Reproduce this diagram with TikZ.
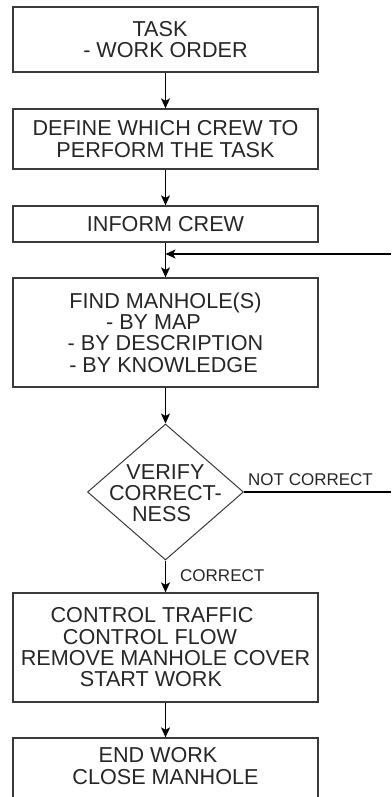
\documentclass[tikz,border=0pt]{standalone}
\usepackage{fontspec}
\setmainfont{Liberation Sans}
\usetikzlibrary{shapes.geometric,arrows.meta}
\definecolor{edge}{HTML}{3A3A3A}
\definecolor{ink}{HTML}{262626}
\begin{document}
\begin{tikzpicture}[x=1pt,y=-1pt,
  every node/.style={font=\fontsize{21.6}{21.3}\selectfont, text=ink},
  stepbox/.style={draw=edge, line width=1.3pt, minimum width=305pt, inner sep=0pt, align=center},
  decision/.style={diamond, draw=edge, line width=1pt, minimum width=156pt, minimum height=136pt, inner sep=0pt},
  flow/.style={draw=black, line width=1.2pt, -{Stealth[length=10pt,width=9pt,inset=2.5pt]}},
  plain/.style={draw=black, line width=1.1pt},
  tag/.style={font=\fontsize{17}{17}\selectfont, inner sep=0pt, anchor=base west}
]
\useasboundingbox (0,0) rectangle (391,797);
\clip (0,0) rectangle (391,797);

% process steps (\kern at a line end pushes that line to the left)
\node[stepbox, minimum height=65pt] (task) at (165.5,39.5) {TASK\kern11pt\\- WORK ORDER};
\node[stepbox, minimum height=60pt] (crew) at (165.5,139) {DEFINE WHICH CREW TO\\PERFORM THE TASK};
\node[stepbox, minimum height=36pt] (inform) at (165.5,224) {INFORM CREW};
\node[stepbox, minimum height=109pt] (find) at (165.5,332.5) {FIND MANHOLE(S)\\- BY MAP\kern24pt\\- BY DESCRIPTION\\- BY KNOWLEDGE\kern4pt};
\node[decision] (verify) at (165.5,492) {};
\node (verifytext) at (165.5,493) [align=center] {VERIFY\\CORRECT-\\NESS\kern8pt};
\node[stepbox, minimum height=109pt] (work) at (165.5,647.5) {CONTROL TRAFFIC\kern27pt\\CONTROL FLOW\kern31pt\\REMOVE MANHOLE COVER\\START WORK\kern29pt};
\node[stepbox, minimum height=100pt] (close) at (165.5,788) {};
\node (closetext) at (165.5,766) [align=center] {END WORK\kern15pt\\CLOSE MANHOLE};

% loop back from the check
\coordinate (notcorrect) at (391,492);
\coordinate (return) at (391,254);
\coordinate (join) at (165.5,254);

% connectors
\draw[flow] (task) -- (crew);
\draw[flow] (crew) -- (inform);
\draw[flow] (inform) -- (find);
\draw[flow] (return) -- (join);
\draw[flow] (find) -- (verify);
\draw[flow] (verify) -- (work);
\draw[flow] (work) -- (close);
\draw[plain] (verify.east) -- (notcorrect);

% branch labels
\node[tag] (nclabel) at (248,485) {NOT CORRECT};
\node[tag] (clabel) at (180,581) {CORRECT};
\end{tikzpicture}
\end{document}
